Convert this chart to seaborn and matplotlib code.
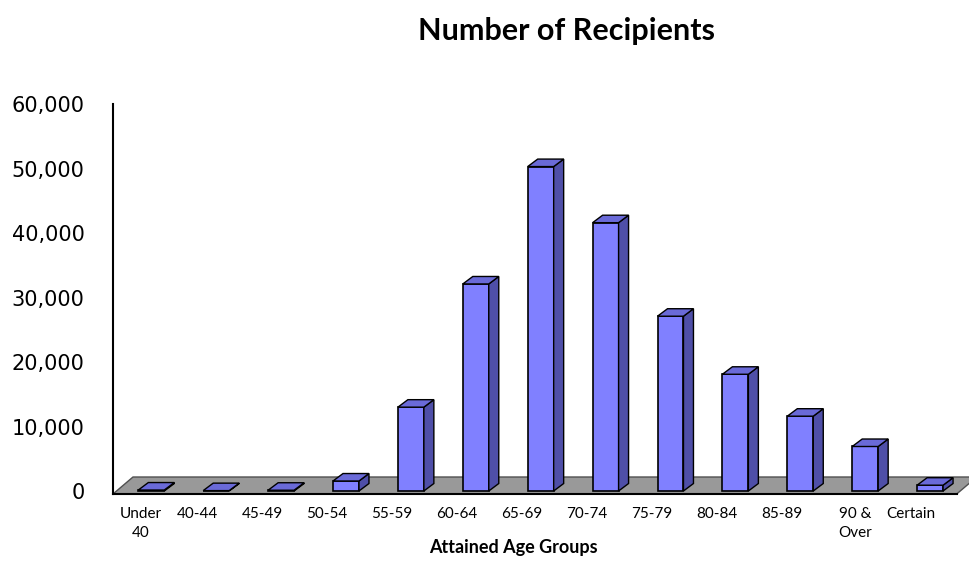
import matplotlib
matplotlib.use("Agg")
import matplotlib.pyplot as plt
from matplotlib.patches import Polygon
import seaborn as sns
import pandas as pd

# values
age_groups = ["Under\n40", "40-44", "45-49", "50-54", "55-59", "60-64", "65-69",
              "70-74", "75-79", "80-84", "85-89", "90 &\nOver", "Certain"]
recipients = [150, 60, 120, 1550, 13000, 32100, 50300, 41600, 27100, 18100, 11600, 6900, 900]
y_ticks = [0, 10000, 20000, 30000, 40000, 50000, 60000]

FRONT = "#8080ff"
SIDE = "#4f4fa8"
TOP = "#6a6ad8"
FLOOR = "#999999"

sns.set_style("white")
plt.rcParams["font.family"] = ["Lato", "DejaVu Sans"]
plt.rcParams["text.color"] = "black"
plt.rcParams["xtick.color"] = "black"
plt.rcParams["ytick.color"] = "black"

fig = plt.figure(figsize=(9.69, 5.88), dpi=100)
ax = fig.add_axes([113 / 969, 94 / 588, 875.5 / 969, 390 / 588])

df = pd.DataFrame({"group": age_groups, "n": recipients})
sns.barplot(data=df, x="group", y="n", color=FRONT, saturation=1, width=0.4,
            edgecolor="black", linewidth=1.2, ax=ax, zorder=3)

x0, x1 = -0.59, 12.9
floor_end = 12.41
y0 = -465
ax.set_xlim(x0, x1)
ax.set_ylim(y0, 60000)

# fake 3d depth of bars and floor
dx, dy = 0.154, 1160
fdx, fdy = 0.308, 2635

bars = list(ax.patches)
for p in bars:
    bx, bw, h = p.get_x(), p.get_width(), p.get_height()
    side = Polygon([(bx + bw, 0), (bx + bw + dx, dy), (bx + bw + dx, h + dy), (bx + bw, h)],
                   closed=True, facecolor=SIDE, edgecolor="black", lw=1.0, zorder=3)
    top = Polygon([(bx, h), (bx + bw, h), (bx + bw + dx, h + dy), (bx + dx, h + dy)],
                  closed=True, facecolor=TOP, edgecolor="black", lw=1.0, zorder=3)
    ax.add_patch(side)
    ax.add_patch(top)

floor = Polygon([(x0, y0), (floor_end, y0), (floor_end + fdx, y0 + fdy), (x0 + fdx, y0 + fdy)],
                closed=True, facecolor=FLOOR, edgecolor="#505050", lw=1.0, zorder=1,
                clip_on=False)
ax.add_patch(floor)

sns.despine(ax=ax)
ax.spines["left"].set_bounds(y0, 60000)
ax.spines["bottom"].set_bounds(x0, floor_end)
for s in ("left", "bottom"):
    ax.spines[s].set_color("black")
    ax.spines[s].set_linewidth(1.5)

ax.set_yticks(y_ticks, labels=[f"{v:,}" for v in y_ticks],
              fontfamily="DejaVu Sans", fontsize=15, color="black")
ax.tick_params(axis="y", length=4.5, width=1.5, pad=16, direction="out", color="black")

label_pos = [i + (-0.16 if "\n" in g else -0.29) for i, g in enumerate(age_groups)]
ax.set_xticks(label_pos, labels=age_groups, fontsize=11, color="black", linespacing=1.5)
ax.set_xticks([x0 + i for i in range(14)], minor=True)
ax.tick_params(axis="x", which="major", length=0, pad=9)
ax.tick_params(axis="x", which="minor", length=3, width=1.2, direction="out", color="black")

ax.set_xlabel("")
ax.set_ylabel("")

fig.text(567 / 969, 1 - 31 / 588, "Number of Recipients", ha="center", va="center",
         fontsize=22, fontweight="bold", color="black")
fig.text(513 / 969, 1 - 547 / 588, "Attained Age Groups", ha="center", va="center",
         fontsize=13, fontweight="bold", color="black")

fig.savefig("out.png", dpi=100)
